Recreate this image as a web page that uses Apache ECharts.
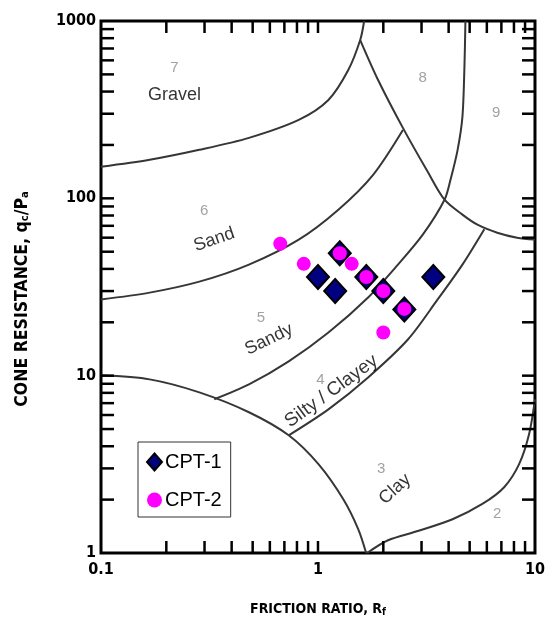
<!DOCTYPE html>
<html><head><meta charset="utf-8">
<script src="https://cdn.jsdelivr.net/npm/echarts@6/dist/echarts.min.js"></script>
<style>html,body{margin:0;padding:0;background:#fff}#c{width:548px;height:622px}</style>
</head><body><div id="c"></div>
<script>
// ---------- data ----------
const cpt1X = [1.26, 1.0, 1.2, 1.67, 2.0, 2.5, 3.4];
const cpt1Y = [49, 36, 30, 36, 30, 23.6, 36];
const cpt2X = [0.67, 0.86, 1.26, 1.43, 1.67, 2.0, 2.5, 2.0];
const cpt2Y = [55.5, 42.7, 49, 42.7, 36, 30, 23.8, 17.5];

// zone boundary curves [Rf, qc/pa]
const gravelCurve = [[0.1,150.6],[0.1676,164.9],[0.2839,187.7],[0.4807,219.3],[0.815,276.9],[1.117,358.8],[1.379,529],[1.565,780.8],[1.632,1000]];
const line78to9 = [[1.565,780.8],[1.892,465],[2.462,249.6],[3.204,141.1],[3.83,98.2],[4.63,80.9],[5.43,71.0],[6.70,64.0],[8.27,60.0],[10,58.5]];
const sandCurve = [[0.1,26.9],[0.1676,29.4],[0.2839,33.9],[0.4807,42.3],[0.815,58.5],[1.241,86.3],[1.795,135.8],[2.462,243]];
const sandyCurve = [[0.3325,7.36],[0.4807,8.93],[0.7328,12.04],[1.117,17.5],[1.702,27.6],[2.336,42.3],[3.04,62.4],[3.83,98.2],[4.08,127.3],[4.40,187.7],[4.63,288],[4.73,550],[4.78,1000]];
const siltyCurve = [[0.7328,4.61],[1.117,6.46],[1.702,9.78],[2.596,16.0],[3.56,26.9],[4.63,42.3],[5.84,67]];
const clayArc = [[0.1,10.04],[0.1676,9.53],[0.2839,8.05],[0.4807,6.22],[0.7328,4.61],[1.005,3.17],[1.308,2.01],[1.532,1.365],[1.667,1.0]];
const clayCurve = [[1.685,1.0],[2.102,1.18],[2.884,1.33],[4.17,1.55],[5.72,1.89],[7.21,2.35],[8.45,3.17],[9.39,4.67],[10,7.36]];

// zone numbers and names [text, Rf, qc/pa]
const zoneNumbers = [['7',0.218,543],['8',3.04,477],['9',6.63,303],['6',0.299,85.2],['5',0.546,21.3],['4',1.027,9.53],['3',1.953,2.97],['2',6.70,1.66]];
const zoneNames = [['Gravel',0.218,383],['Sand',0.3325,58.5],['Sandy',0.594,16.0],['Silty / Clayey',1.153,8.16],['Clay',2.263,2.29]];

// ticks
const xTickValues = [0.2,0.3,0.4,0.5,0.6,0.7,0.8,0.9,1,2,3,4,5,6,7,8,9];
const yTickValues = [2,3,4,5,6,7,8,9,10,20,30,40,50,60,70,80,90,100,200,300,400,500,600,700,800,900];
const xTickLabels = {0.1:'0.1',1:'1',10:'10'};
const yTickLabels = {1:'1',10:'10',100:'100',1000:'1000'};
const xTitle = 'FRICTION RATIO, R{s|f}';
const yTitle = 'CONE RESISTANCE, q{s|c}/P{s|a}';

// ---------- styles ----------
const nameRotation = {'Gravel':0,'Sand':19,'Sandy':26,'Silty / Clayey':36,'Clay':42};
const nameSize = {'Gravel':18,'Sand':18,'Sandy':18,'Silty / Clayey':19,'Clay':18};
const curveStyle = {color:'#363636', width:2};
const condFont = "'Liberation Sans Narrow','DejaVu Sans Condensed',sans-serif";

const zip = (xs, ys) => xs.map((x,i)=>[x, ys[i]]);
const tickData = [];
xTickValues.forEach(v=>{ tickData.push([v,1,0]); tickData.push([v,1000,1]); });
yTickValues.forEach(v=>{ tickData.push([0.1,v,2]); tickData.push([10,v,3]); });

function curve(name, data){
  return {name, type:'line', data, smooth:0.3, symbol:'none', silent:true,
    lineStyle:curveStyle, z:2};
}

const chart = echarts.init(document.getElementById('c'));
chart.setOption({
  animation:false,
  backgroundColor:'#fff',
  grid:{left:101, top:21, width:437, height:533, show:true, borderColor:'#000', borderWidth:3, backgroundColor:'transparent'},
  graphic:[{type:'text', x:22, y:299, rotation:Math.PI/2,
    style:{text:yTitle, fill:'#000', font:"bold 17.5px "+condFont, align:'center', verticalAlign:'middle',
      rich:{s:{fontSize:11, fontWeight:'bold', fontFamily:condFont, verticalAlign:'bottom', padding:[7,0,0,0]}}}}],
  xAxis:{type:'log', logBase:10, min:0.1, max:10,
    axisLine:{show:false}, axisTick:{show:false}, splitLine:{show:false},
    axisLabel:{formatter:v=>xTickLabels[+v.toPrecision(3)]||'', color:'#000', fontSize:16, fontWeight:'bold', fontFamily:condFont, margin:9},
    name:xTitle, nameLocation:'middle', nameGap:48,
    nameTextStyle:{color:'#000', fontSize:14, fontWeight:'bold', fontFamily:condFont,
      rich:{s:{fontSize:10, fontWeight:'bold', verticalAlign:'bottom', padding:[6,0,0,0], fontFamily:condFont}}}
  },
  yAxis:{type:'log', logBase:10, min:1, max:1000,
    axisLine:{show:false}, axisTick:{show:false}, splitLine:{show:false},
    axisLabel:{formatter:v=>yTickLabels[+v.toPrecision(3)]||'', color:'#000', fontSize:16, fontWeight:'bold', fontFamily:condFont, margin:5}
  },
  legend:{orient:'vertical', left:138, top:442, padding:[10,9,7,8], itemGap:18, itemWidth:15, itemHeight:17,
    borderColor:'#333', borderWidth:1, backgroundColor:'#fff',
    textStyle:{fontSize:20, color:'#000', fontFamily:"'Liberation Sans',Arial,sans-serif", padding:[0,0,0,-2]},
    data:[{name:'CPT-1', icon:'diamond'},{name:'CPT-2', icon:'circle'}]},
  series:[
    {type:'custom', silent:true, z:5, data:tickData,
      renderItem:(params, api)=>{
        const p = api.coord([api.value(0), api.value(1)]);
        const d = api.value(2), L = 12;
        let x2=p[0], y2=p[1];
        if(d===0) y2-=L; else if(d===1) y2+=L; else if(d===2) x2+=L+1; else x2-=L+1;
        return {type:'line', shape:{x1:p[0], y1:p[1], x2, y2}, style:{stroke:'#000', lineWidth:2.5}};
      }},
    curve('gravel', gravelCurve),
    curve('l78', line78to9),
    curve('sand', sandCurve),
    curve('sandy', sandyCurve),
    curve('silty', siltyCurve),
    curve('clayArc', clayArc),
    curve('clay', clayCurve),
    {type:'scatter', silent:true, symbolSize:0, z:3,
      data:zoneNumbers.map(z=>({name:z[0], value:[z[1], z[2]]})),
      label:{show:true, formatter:'{b}', position:'inside', color:'#8a8a8a', fontSize:15, fontFamily:"'Liberation Sans',Arial,sans-serif"}},
    {type:'scatter', silent:true, symbolSize:0, z:3,
      data:zoneNames.map(z=>({name:z[0], value:[z[1], z[2]], label:{rotate:nameRotation[z[0]], fontSize:nameSize[z[0]]}})),
      label:{show:true, formatter:'{b}', position:'inside', color:'#000', fontSize:18, fontFamily:"'Liberation Sans',Arial,sans-serif"}},
    {name:'CPT-1', type:'scatter', symbol:'diamond', symbolSize:[22,24], z:10, data:zip(cpt1X, cpt1Y),
      itemStyle:{color:'#000080', borderColor:'#000', borderWidth:2, opacity:1}},
    {name:'CPT-2', type:'scatter', symbol:'circle', symbolSize:14, z:11, data:zip(cpt2X, cpt2Y),
      itemStyle:{color:'#ff00ff', opacity:1}}
  ]
});
</script></body></html>
